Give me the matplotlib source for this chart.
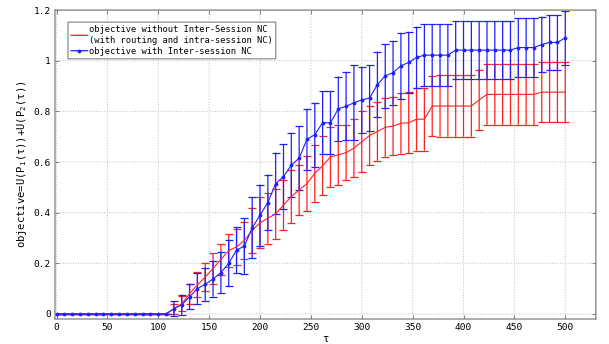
import numpy as np
import matplotlib
matplotlib.use('Agg')
import matplotlib.pyplot as plt
from matplotlib.lines import Line2D

plt.rcParams['font.family'] = 'DejaVu Sans Mono'
plt.rcParams['mathtext.fontset'] = 'custom'
plt.rcParams['mathtext.rm'] = 'DejaVu Sans Mono'
plt.rcParams['mathtext.default'] = 'rm'
plt.rcParams['path.snap'] = False

# tau grid (66 samples between 0 and 500)
tau = np.linspace(0, 500, 66)

# objective without inter-session NC (red)
red_mean = [0.0] * 15 + [
    0.02, 0.04, 0.08, 0.115, 0.145, 0.18, 0.215, 0.25, 0.265, 0.29, 0.33,
    0.36, 0.378, 0.395, 0.43, 0.463, 0.49, 0.515, 0.555, 0.585, 0.62, 0.628,
    0.637, 0.655, 0.68, 0.705, 0.72, 0.737, 0.742, 0.753, 0.755, 0.769, 0.769,
] + [0.821] * 6 + [0.845] + [0.867] * 7 + [0.876] * 4
red_err = [0.0] * 15 + [
    0.02, 0.03, 0.04, 0.05, 0.055, 0.06, 0.06, 0.065, 0.07, 0.075, 0.09,
    0.1, 0.1, 0.1, 0.1, 0.105, 0.1, 0.11, 0.112, 0.117, 0.12, 0.12,
    0.11, 0.115, 0.12, 0.118, 0.115, 0.116, 0.116, 0.12, 0.12, 0.124, 0.124,
] + [0.12] + [0.121] * 5 + [0.12] + [0.12] * 7 + [0.119] * 4

# objective with inter-session NC (blue)
blue_mean = [0.0] * 15 + [
    0.021, 0.036, 0.068, 0.10, 0.117, 0.138, 0.163, 0.20, 0.252, 0.268, 0.34,
    0.39, 0.44, 0.515, 0.542, 0.588, 0.615, 0.69, 0.708, 0.755, 0.755, 0.81,
    0.82, 0.834, 0.845, 0.853, 0.906, 0.94, 0.953, 0.98, 0.993, 1.013, 1.022,
    1.022, 1.022, 1.022,
] + [1.042] * 8 + [1.052] * 3 + [1.064, 1.072, 1.072, 1.091]
blue_err = [0.0] * 15 + [
    0.03, 0.04, 0.05, 0.06, 0.065, 0.07, 0.08, 0.09, 0.09, 0.11, 0.12,
    0.12, 0.11, 0.122, 0.129, 0.128, 0.127, 0.12, 0.126, 0.125, 0.125, 0.127,
    0.134, 0.149, 0.129, 0.13, 0.13, 0.126, 0.126, 0.13, 0.121, 0.121, 0.123,
    0.123, 0.123, 0.123,
] + [0.113] * 8 + [0.115] * 3 + [0.11, 0.108, 0.108, 0.106]

red_label = 'objective without Inter-Session NC\n(with routing and intra-session NC)'
blue_label = 'objective with Inter-session NC'

fig = plt.figure(figsize=(6.09, 3.44), dpi=100)
ax = fig.add_axes([0.0903, 0.0727, 0.888, 0.898])

ax.errorbar(tau, red_mean, yerr=red_err, color='#ff2020', lw=0.8,
            elinewidth=0.9, capsize=3.2, capthick=0.9)
ax.errorbar(tau, blue_mean, yerr=blue_err, color='#2020ff', lw=0.8,
            elinewidth=0.9, capsize=3.0, capthick=0.9,
            marker='.', markersize=3.5)

ax.set_xlim(-1.5, 530)
ax.set_ylim(-0.02, 1.2)
ax.set_xticks(np.arange(0, 501, 50))
ax.set_yticks([0, 0.2, 0.4, 0.6, 0.8, 1.0, 1.2])
ax.set_yticklabels(['0', '0.2', '0.4', '0.6', '0.8', '1', '1.2'])

ax.grid(True, linestyle=':', color='#bdbdbd', linewidth=0.7)
ax.tick_params(direction='in', length=3, width=0.7, color='#7f7f7f',
               labelsize=6.8, top=True, right=True, pad=3)
for s in ax.spines.values():
    s.set_color('#8c8c8c')
    s.set_linewidth(1.0)

ax.set_xlabel('τ', fontsize=7.5, labelpad=1)
ax.set_ylabel('objective=U(P$_1$(τ))+U(P$_2$(τ))', fontsize=7.6, labelpad=3)

handles = [Line2D([], [], color='#ff2020', lw=0.9),
           Line2D([], [], color='#2020ff', lw=0.9, marker='.', markersize=3.5)]
leg = ax.legend(handles, [red_label, blue_label], loc='upper left',
                bbox_to_anchor=(0.024, 0.961), borderaxespad=0, fontsize=6.3,
                fancybox=False, handlelength=1.9, handletextpad=0.15,
                labelspacing=0.25, borderpad=0.35, framealpha=1)
leg.get_frame().set_edgecolor('#7f7f7f')
leg.get_frame().set_linewidth(0.8)

fig.savefig('out.png', dpi=100)
